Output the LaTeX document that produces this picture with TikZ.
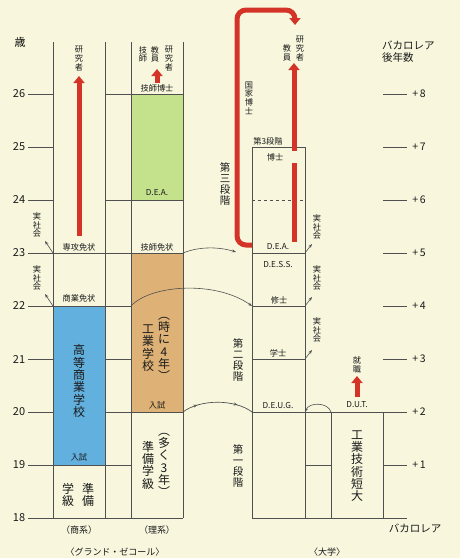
\documentclass[tikz,border=0pt]{standalone}
\usepackage{fontspec}
\setmainfont{Noto Sans CJK JP}
\usetikzlibrary{arrows.meta,decorations.markings}
\definecolor{bg}{RGB}{248,247,222}
\definecolor{ln}{RGB}{80,80,80}
\definecolor{redarr}{RGB}{212,52,40}
\definecolor{blu}{RGB}{98,176,222}
\definecolor{org}{RGB}{222,178,118}
\definecolor{grn}{RGB}{196,226,140}
\begin{document}
\begin{tikzpicture}[x=1pt,y=-1pt,
  gl/.style={draw=ln,line width=0.7pt},
  dl/.style={draw=ln,line width=0.7pt,dashed},
  sa/.style={draw=ln,line width=0.6pt,-{Stealth[length=4pt,width=3pt]}},
  redl/.style={draw=redarr,line width=5pt},
  reda/.style={draw=redarr,line width=5pt,-{Triangle[length=7pt,width=11pt]}},
  lab/.style={font=\fontsize{8.2}{8.2}\selectfont,inner sep=0pt,text=black!90},
  num/.style={font=\fontsize{11}{11}\selectfont,inner sep=0pt,text=black!90},
  vsm/.style={font=\fontsize{8.2}{8.7}\selectfont,align=center,inner sep=0pt,text=black!90},
  vmd/.style={font=\fontsize{10.5}{11.2}\selectfont,align=center,inner sep=0pt,text=black!90},
  vbg/.style={font=\fontsize{12}{12.3}\selectfont,align=center,inner sep=0pt,text=black!90}]
\fill[bg] (0,0) rectangle (460,558);
\useasboundingbox (0,0) rectangle (460,558);
% coloured boxes
\fill[blu] (53,306) rectangle (105,465);
\fill[org] (131,253) rectangle (183,412);
\fill[grn] (131,94) rectangle (183,200);
% grande ecole verticals
\foreach \x in {53,105,131,183} \draw[gl] (\x,42) -- (\x,518);
% age ticks
\foreach \a/\y in {18/518,19/465,20/412,21/359,22/306,23/253,24/200,25/147,26/94}{
  \draw[gl] (28,\y) -- (53,\y);
  \node[num] (age\a) at (19,\y) {\a};
}
\node[font=\fontsize{11}{11}\selectfont,inner sep=0pt] (sai) at (20,42) {歳};
% horizontal lines grande ecole
\draw[gl] (105,94) -- (183,94);
\draw[gl] (105,200) -- (183,200);
\draw[gl] (53,253) -- (183,253);
\draw[gl] (53,306) -- (131,306);
\draw[gl] (105,359) -- (131,359);
\draw[gl] (105,412) -- (183,412);
\draw[gl] (53,465) -- (131,465);
\draw[gl] (53,518) -- (183,518);
% university box
\draw[gl] (252,147) -- (252,518);
\draw[gl] (305,147) -- (305,518);
\draw[gl] (252,147) -- (305,147);
\draw[dl] (252,200) -- (305,200);
\draw[gl] (252,253) -- (305,253);
\draw[gl] (252,306) -- (305,306);
\draw[gl] (252,359) -- (305,359);
\draw[gl] (252,412) -- (407,412);
\draw[gl] (252,518) -- (407,518);
\draw[gl] (331,412) -- (331,518);
\draw[gl] (383,412) -- (383,518);
\draw[gl] (305,465) -- (331,465);
\draw[gl] (383,465) -- (407,465);
% right axis
\foreach \n/\y in {3/359,4/306,5/253,6/200,7/147,8/94}{
  \draw[gl] (383,\y) -- (407,\y);
}
\foreach \n/\y in {1/465,2/412,3/359,4/306,5/253,6/200,7/147,8/94}{
  \node[font=\fontsize{10.5}{10.5}\selectfont,inner sep=0pt,text=black!90] (bp\n) at (419,\y) {+\,\n};
}
\node[font=\fontsize{10.5}{12}\selectfont,inner sep=0pt,align=left,anchor=west,text=black!90] (bachead) at (382,52) {バカロレア\\後年数};
\node[font=\fontsize{10.5}{10.5}\selectfont,inner sep=0pt,text=black!90] (bacbot) at (415,528) {バカロレア};
% coordinates for connectors
\coordinate (g23) at (183,253);
\coordinate (u23) at (236,252);
\coordinate (g22) at (131,306);
\coordinate (u22) at (252,306);
\coordinate (g20) at (183,412);
\coordinate (u20) at (252,412);
\coordinate (d20) at (331,412);
\coordinate (e20) at (305,412);
\draw[sa] (g23) .. controls (200,246) and (220,247) .. (u23);
\draw[sa] (g22) .. controls (150,285) and (215,280) .. (u22);
\draw[gl,postaction={decorate},decoration={markings,
  mark=at position 0.22 with {\arrow{Stealth[length=4pt,width=3pt]}},
  mark=at position 0.78 with {\arrow{Stealth[length=4pt,width=3pt]}}}] (g20) .. controls (200,399) and (235,399) .. (u20);
\draw[sa] (d20) .. controls (328,402) and (309,402) .. (e20);
% jitsu shakai arrows
\coordinate (l23) at (53,253); \coordinate (l23e) at (45,241);
\coordinate (l22) at (53,306); \coordinate (l22e) at (45,294);
\coordinate (r23) at (305,253); \coordinate (r23e) at (312,244);
\coordinate (r22) at (305,306); \coordinate (r22e) at (312,297);
\coordinate (r21) at (305,359); \coordinate (r21e) at (312,350);
\draw[sa] (l23) -- (l23e);
\draw[sa] (l22) -- (l22e);
\draw[sa] (r23) -- (r23e);
\draw[sa] (r22) -- (r22e);
\draw[sa] (r21) -- (r21e);
\node[vsm] (js1) at (37,225) {実\\社\\会};
\node[vsm] (js2) at (37,278) {実\\社\\会};
\node[vsm] (js3) at (317,227) {実\\社\\会};
\node[vsm] (js4) at (317,278) {実\\社\\会};
\node[vsm] (js5) at (317,330) {実\\社\\会};
% red arrows
\coordinate (ra1s) at (79,236); \coordinate (ra1e) at (79,76);
\draw[reda] (ra1s) -- (ra1e);
\coordinate (ra2s) at (157,83); \coordinate (ra2e) at (157,69);
\draw[reda] (ra2s) -- (ra2e);
\coordinate (ra3s) at (357,397); \coordinate (ra3e) at (357,376);
\draw[reda] (ra3s) -- (ra3e);
\coordinate (ra4a) at (294,242); \coordinate (ra4b) at (294,163);
\draw[redl] (ra4a) -- (ra4b);
\coordinate (ra5s) at (294,151); \coordinate (ra5e) at (294,63);
\draw[reda] (ra5s) -- (ra5e);
\coordinate (rLs) at (252,245); \coordinate (rLe) at (295,25);
\draw[reda,rounded corners=9pt] (rLs) -- (237,245) -- (237,10) -- (295,10) -- (rLe);
% grande ecole labels
\node[vsm,anchor=north] (ken1) at (79,46) {研\\究\\者};
\node[vsm,anchor=north] (gishi) at (143,46) {技\\師};
\node[vsm,anchor=north] (kyoin1) at (155,46) {教\\員};
\node[vsm,anchor=north] (ken2) at (169,46) {研\\究\\者};
\node[lab] (gh) at (157,88) {技師博士};
\node[lab] (dea1) at (157,193) {D.E.A.};
\node[lab] (senko) at (79,247) {専攻免状};
\node[lab] (gishim) at (157,247) {技師免状};
\node[lab] (shogyo) at (79,298) {商業免状};
\node[vbg] (kosho) at (79,381) {高\\等\\商\\業\\学\\校};
\node[lab] (nyu1) at (79,457) {入試};
\node[lab] (nyu2) at (157,405) {入試};
\node[vbg] (kogyo) at (148,348) {工\\業\\学\\校};
\node[vbg] (toki) at (164,349) {︵\\時\\に\\4\\年\\︶};
\node[vbg] (jun1a) at (88,495) {準\\備};
\node[vbg] (jun1b) at (68,495) {学\\級};
\node[vbg] (jun2) at (148,465) {準\\備\\学\\級};
\node[vbg] (ooku) at (164,465) {︵\\多\\く\\3\\年\\︶};
\node[font=\fontsize{9}{9}\selectfont,inner sep=0pt,text=black!90] (shokei) at (79,530) {（商系）};
\node[font=\fontsize{9}{9}\selectfont,inner sep=0pt,text=black!90] (rikei) at (157,530) {（理系）};
\node[font=\fontsize{9}{9}\selectfont,inner sep=0pt,text=black!90] (ge) at (115,552) {〈グランド・ゼコール〉};
\node[font=\fontsize{9}{9}\selectfont,inner sep=0pt,text=black!90] (daigaku) at (327,552) {〈大学〉};
% university labels
\node[vmd] (dan3) at (225,184) {第\\三\\段\\階};
\node[vmd] (dan2) at (238,360) {第\\二\\段\\階};
\node[vmd] (dan1) at (238,466) {第\\一\\段\\階};
\node[vsm] (kokka) at (249,98) {国\\家\\博\\士};
\node[lab] (d3) at (268,141) {第3段階};
\node[lab] (hakase) at (275,157) {博士};
\node[lab] (dea2) at (278,247) {D.E.A.};
\node[lab] (dess) at (278,264) {D.E.S.S.};
\node[lab] (shushi) at (279,300) {修士};
\node[lab] (gakushi) at (278,353) {学士};
\node[lab] (deug) at (278,405) {D.E.U.G.};
\node[lab] (dut) at (357,405) {D.U.T.};
\node[vsm] (shushoku) at (357,365) {就\\職};
\node[vbg] (tandai) at (357,466) {工\\業\\技\\術\\短\\大};
\node[vsm,anchor=south] (ken3) at (300,61) {研\\究\\者};
\node[vsm,anchor=south] (kyoin2) at (287,61) {教\\員};
\end{tikzpicture}
\end{document}
